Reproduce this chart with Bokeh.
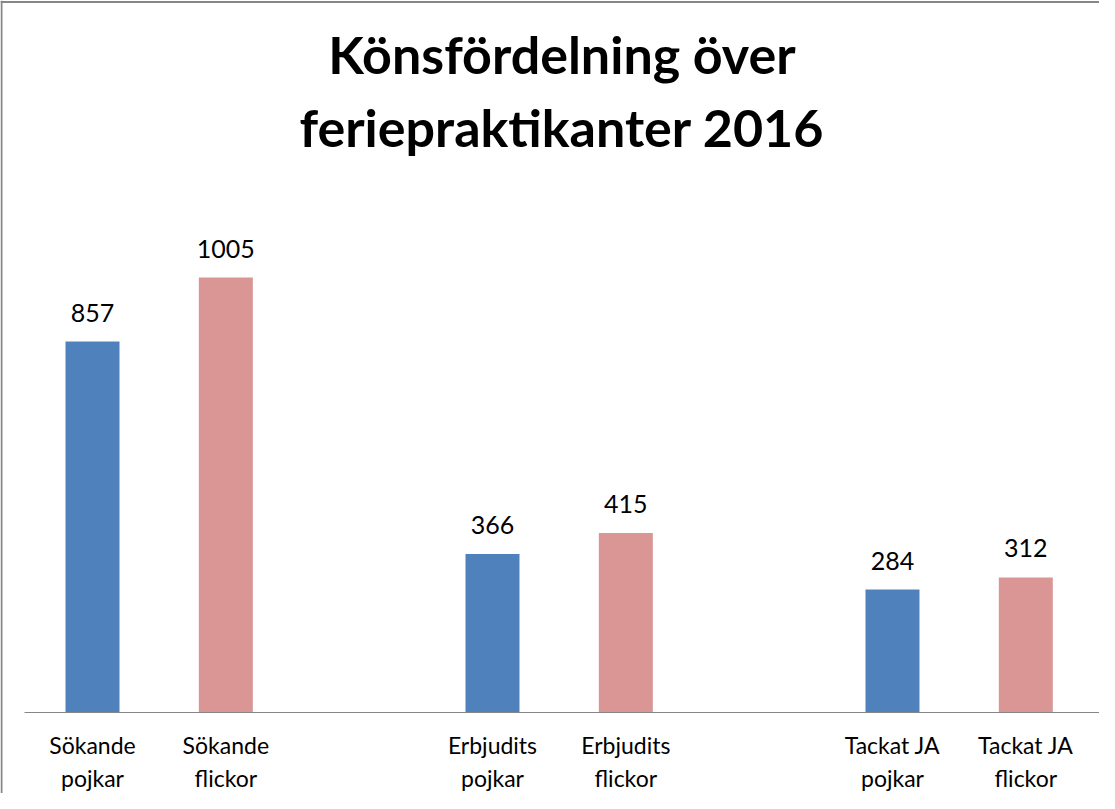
from bokeh.plotting import figure
from bokeh.models import Range1d, FixedTicker, ColumnDataSource, Label, Span
from bokeh.core.properties import value
from bokeh.embed import file_html
from bokeh.resources import INLINE

# ---- data ----
categories = ["Sökande pojkar", "Sökande flickor", "Erbjudits pojkar",
              "Erbjudits flickor", "Tackat JA pojkar", "Tackat JA flickor"]
tick_labels = ["Sökande\npojkar", "Sökande\nflickor", "Erbjudits\npojkar",
               "Erbjudits\nflickor", "Tackat JA\npojkar", "Tackat JA\nflickor"]
values = [857, 1005, 366, 415, 284, 312]
slots = [0, 1, 3, 4, 6, 7]          # category slots (empty slot between groups)
gender_colors = {"pojkar": "#4F81BD", "flickor": "#D99694"}
title_lines = ["Könsfördelning över", "feriepraktikanter 2016"]

colors = [gender_colors[c.split()[-1]] for c in categories]
src = ColumnDataSource(dict(x=slots, value=values, color=colors,
                            label=[str(v) for v in values], cat=categories))

# ---- layout constants (pixels) ----
W, H = 1099, 793
BASE = 712            # canvas y of the category axis
PXY = 0.4328          # pixels per unit value
PXX = 133.33          # pixels per category slot
X0 = -92 / PXX        # data x at left canvas edge

p = figure(width=W, height=H, output_backend="svg", toolbar_location=None,
           x_range=Range1d(X0, X0 + W / PXX),
           y_range=Range1d(-(H - BASE) / PXY, BASE / PXY),
           y_axis_location=None, min_border_left=0, min_border_right=0,
           min_border_top=0, min_border_bottom=0)
p.xgrid.visible = False
p.ygrid.visible = False
p.outline_line_color = None
p.background_fill_color = "white"
p.border_fill_color = "white"

# chart-area border (top and left edges visible)
p.add_layout(Span(location=X0 + 1 / PXX, dimension="height",
                  line_color="#878787", line_width=2))
p.add_layout(Span(location=BASE / PXY - 1.5 / PXY, dimension="width",
                  line_color="#878787", line_width=2))

p.vbar(x="x", top="value", width=0.405, fill_color="color", line_color=None, source=src)
p.text(x="x", y="value", text="label", text_align="center", text_baseline="alphabetic",
       y_offset=-29, text_font=value("Lato"), text_font_size="25px",
       text_color="#000000", source=src)

ax = p.xaxis[0]
ax.fixed_location = 0
ax.bounds = (X0 + 24 / PXX, X0 + W / PXX)
ax.ticker = FixedTicker(ticks=slots)
ax.major_label_overrides = {s: t for s, t in zip(slots, tick_labels)}
ax.axis_line_color = "#868686"
ax.axis_line_width = 1
ax.major_tick_in = 0
ax.major_tick_out = 0
ax.minor_tick_line_color = None
ax.major_label_text_font = "Lato"
ax.major_label_text_font_size = "23px"
ax.major_label_text_color = "#000000"
ax.major_label_standoff = 18
ax.major_label_text_line_height = 1.18

center = (p.x_range.start + 24 / PXX + p.x_range.end) / 2
for txt, px_above in zip(title_lines, [659, 586]):
    p.add_layout(Label(x=center, y=px_above / PXY, text=txt, text_align="center",
                       text_baseline="alphabetic", text_font="Lato",
                       text_font_style="bold", text_font_size="52px",
                       text_color="#000000"))

open("out.html", "w").write(file_html(p, INLINE))
